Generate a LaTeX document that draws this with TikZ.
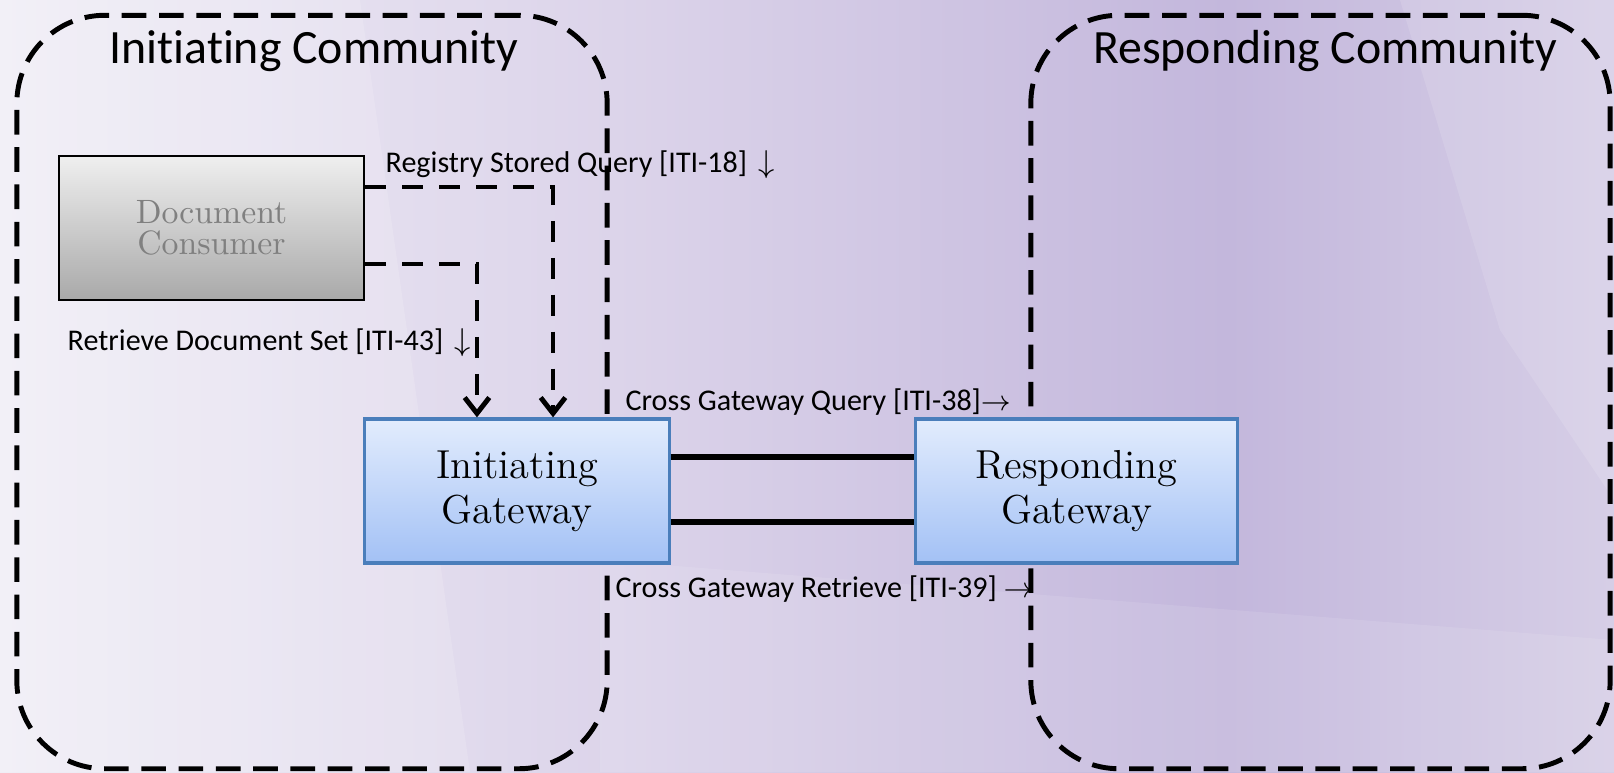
\documentclass[tikz,border=0pt]{standalone}
\usepackage{fontspec}
\usetikzlibrary{arrows.meta,calc}
\newfontfamily\labfont[Ligatures=NoCommon]{Carlito}
\definecolor{bgA}{HTML}{F0EEF6}
\definecolor{bgB}{HTML}{DCD4EA}
\definecolor{bgC}{HTML}{C3B7DC}
\definecolor{bgD}{HTML}{D6CEE6}
\definecolor{gwTop}{HTML}{E2ECFD}
\definecolor{gwBot}{HTML}{A3C1F5}
\definecolor{gwLine}{HTML}{4A7EBB}
\definecolor{dcTop}{HTML}{EFEFEF}
\definecolor{dcBot}{HTML}{A9A9A9}
\pgfdeclarehorizontalshading{bgshade}{100bp}{color(0bp)=(bgA); color(25bp)=(bgA); color(44bp)=(bgB); color(63bp)=(bgC); color(75bp)=(bgD); color(100bp)=(bgD)}
\tikzset{
  community/.style={draw=black, line width=1.4pt, dash pattern=on 7pt off 3.6pt, rounded corners=0.88cm},
  commtitle/.style={font=\labfont\fontsize{13.6}{16}\selectfont, anchor=base, inner sep=0pt},
  entity/.style={draw=black, line width=0.7pt, top color=dcTop, bottom color=dcBot, align=center, text=black!50, font=\fontsize{9.6}{8.8}\selectfont, inner sep=0pt},
  gateway/.style={draw=gwLine, line width=0.9pt, top color=gwTop, bottom color=gwBot, align=center, font=\fontsize{11.5}{12.8}\selectfont, inner sep=0pt, minimum height=1.44cm},
  conn/.style={line width=1.4pt, dash pattern=on 6pt off 4.5pt, -{Straight Barb[length=4.5pt,width=7pt]}},
  link/.style={line width=1.6pt},
  lab/.style={font=\labfont\fontsize{8.55}{10}\selectfont, anchor=west, inner sep=0pt}
}
\newcommand{\dnarrow}{{\fontsize{9.5}{10}\selectfont\hspace{1.2pt}$\downarrow$}}
\newcommand{\rtarrow}{{\fontsize{8.5}{10}\selectfont$\rightarrow$}}
\begin{document}
\begin{tikzpicture}[x=0.01cm, y=-0.01cm]
\useasboundingbox (0,0) rectangle (1614,772);
\fill[shading=bgshade] (0,0) rectangle (1614,772);
% light streaks
\fill[white, opacity=0.12] (1400,0) -- (1614,0) -- (1614,500) -- (1500,330) -- cycle;
\fill[white, opacity=0.15] (0,0) -- (360,0) -- (470,772) -- (0,772) -- cycle;
\fill[white, opacity=0.10] (600,560) -- (1614,640) -- (1614,772) -- (600,772) -- cycle;

\node[community, minimum width=5.9cm, minimum height=7.53cm] (icomm) at (312,392) {};
\node[community, minimum width=5.79cm, minimum height=7.53cm] (rcomm) at (1320.5,392) {};
\node[commtitle] (ititle) at (314,63) {Initiating Community};
\node[commtitle] (rtitle) at (1325,63) {Responding Community};

\node[entity, minimum width=3.05cm, minimum height=1.44cm] (dc) at (211.5,228) {Document\\Consumer};
\node[gateway, minimum width=3.04cm] (ig) at (517,491) {Initiating\\Gateway};
\node[gateway, minimum width=3.21cm] (rg) at (1076.5,491) {Responding\\Gateway};

\draw[conn] ([yshift=0.41cm]dc.east) -| ([xshift=0.36cm]ig.north);
\draw[conn] ([yshift=-0.36cm]dc.east) -| ([xshift=-0.40cm]ig.north);
\draw[link] ([yshift=0.34cm]ig.east) -- ([yshift=0.34cm]rg.west);
\draw[link] ([yshift=-0.31cm]ig.east) -- ([yshift=-0.31cm]rg.west);

\node[lab] (lrsq) at (385,165) {Registry Stored Query [ITI-18] \dnarrow};
\node[lab] (lrds) at (67,343) {Retrieve Document Set [ITI-43] \dnarrow};
\node[lab] (lcgq) at (625,402) {Cross Gateway Query [ITI-38]\rtarrow};
\node[lab] (lcgr) at (615,589) {Cross Gateway Retrieve [ITI-39] \rtarrow};
\end{tikzpicture}
\end{document}
